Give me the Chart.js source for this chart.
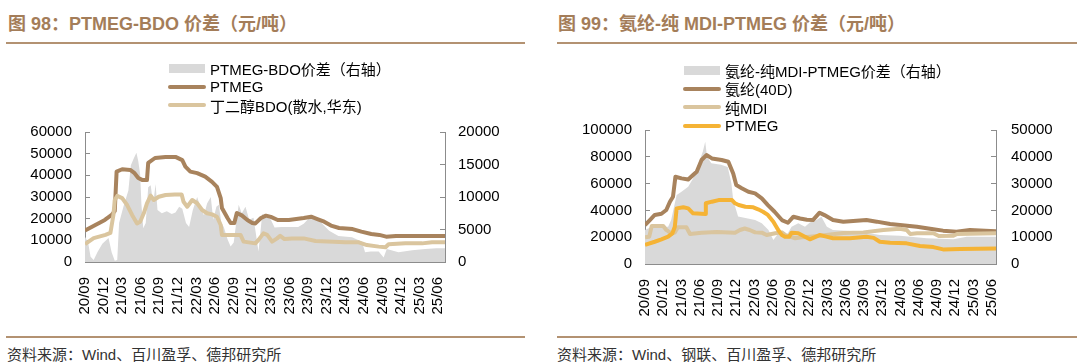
<!DOCTYPE html>
<html>
<head>
<meta charset="utf-8">
<script src="https://cdn.jsdelivr.net/npm/chart.js@4.4.0/dist/chart.umd.min.js"></script>
<style>
  body { margin:0; width:1080px; height:362px; position:relative; background:#fff; overflow:hidden;
         font-family:"Liberation Sans","Noto Sans CJK SC",sans-serif; }
  .title { position:absolute; top:14px; line-height:20px; font-size:18px; font-weight:bold; color:#a47d59; white-space:nowrap; }
  .rule { position:absolute; height:2px; background:#b39272; }
  .src { position:absolute; top:346px; line-height:18px; font-size:15px; color:#333; white-space:nowrap; }
  .box { position:absolute; top:0; width:540px; height:330px; }
  .legend { position:absolute; font-size:15px; color:#000; }
  .legend div { height:18.5px; display:flex; align-items:center; white-space:nowrap; }
  .legend .sym { display:inline-block; width:38px; margin-right:4px; }
</style>
</head>
<body>
<div class="title" style="left:8px">图 98：PTMEG-BDO 价差（元/吨）</div>
<div class="rule" style="left:6px;top:42px;width:519px"></div>
<div class="title" style="left:558px">图 99：氨纶-纯 MDI-PTMEG 价差（元/吨）</div>
<div class="rule" style="left:557px;top:42px;width:520px"></div>

<div class="box" style="left:0"><canvas id="c98" width="540" height="330"></canvas></div>
<div class="box" style="left:540px"><canvas id="c99" width="540" height="330"></canvas></div>
<div class="legend" id="lg98" style="left:168px;top:59px"></div>
<div class="legend" id="lg99" style="left:683px;top:61px"></div>

<div class="rule" style="left:6px;top:336px;width:519px"></div>
<div class="rule" style="left:557px;top:336px;width:520px"></div>
<div class="src" style="left:7px">资料来源：Wind、百川盈孚、德邦研究所</div>
<div class="src" style="left:557px">资料来源：Wind、钢联、百川盈孚、德邦研究所</div>

<script>
// x = months since 2020-09
const xTickLabels = ['20/09','20/12','21/03','21/06','21/09','21/12','22/03','22/06','22/09','22/12',
  '23/03','23/06','23/09','23/12','24/03','24/06','24/09','24/12','25/03','25/06']

// 图98
const spreadX98 = [0,0.5,0.9,1.4,2.0,2.8,3.8,4.3,4.8,5.2,5.5,6.2,7.0,7.4,7.9,8.3,8.6,8.9,9.1,9.4,9.8,10.2,10.6,11.0,11.4,11.7,12.4,13.2,14.0,14.6,15.2,15.7,16.3,16.8,17.4,18.1,18.6,19.2,19.7,20.3,20.7,21.2,21.6,22.0,22.4,23.0,23.5,24.0,24.4,24.8,25.3,25.9,26.5,27.2,28.0,28.6,29.9,30.6,31.7,34.4,35.3,36.6,37.2,38.3,39.4,40.9,43.1,44.7,45.2,46.1,47.4,48.2,48.7,50.6,52.8,54.9,56.7,58.1]
const spreadY98 = [3900,3000,800,300,1500,2800,3700,1500,200,300,6000,8500,11000,14900,16000,16800,15500,13500,9000,5200,6000,11500,11800,9000,12000,8000,7500,7800,7400,7600,8500,8200,6000,5400,8000,10000,8500,7200,9000,10000,6500,8500,8800,6000,5400,3500,2400,3000,6000,8800,7500,8500,6500,6800,1600,7400,6700,5300,5400,5400,5900,7200,6900,5900,4800,4000,3800,3100,1500,1600,1600,700,2000,1500,1800,2000,2100,2100]
const ptmegX98 = [0,1.6,3.2,4.3,4.8,5.1,6.0,7.3,8.0,8.6,9.3,10.0,10.2,11.3,13.0,14.6,15.7,16.2,17.0,18.1,19.4,20.5,21.3,21.9,22.1,23.0,23.5,24.1,24.5,25.3,26.2,27.0,27.5,28.4,29.2,30.0,31.1,32.9,35.3,36.5,37.5,38.6,39.7,41.0,43.2,44.6,46.2,47.5,48.6,50.2,58.1]
const ptmegY98 = [14500,17000,19400,21700,23500,41700,42800,42500,41000,38800,37800,37800,45700,48000,48500,48500,47000,44000,41700,41000,39400,37000,34700,29500,24900,20300,18000,18000,22600,21500,19400,18000,17800,20300,21400,20800,19400,19400,20300,20900,19800,18600,16800,15700,15200,14000,12900,12500,11700,12000,12000]
const bdoX98 = [0,1.4,3.3,4.1,4.6,4.8,5.2,6.0,6.8,7.6,8.4,8.9,9.5,10.0,10.6,11.1,11.9,13.0,14.5,15.6,15.9,16.5,17.3,18.1,18.9,19.7,20.5,21.3,21.9,22.1,23.7,25.1,25.6,27.5,28.0,28.8,29.4,30.2,31.0,31.5,32.2,33.4,35.3,37.2,42.0,44.2,45.5,47.4,48.5,49.0,51.7,54.4,56.0,58.1]
const bdoY98 = [8200,11000,12500,13400,22000,28600,30500,29500,26300,21700,17800,18600,22600,27100,30600,28600,30100,30900,31200,31200,27800,25500,28600,27100,24000,22500,22000,20900,17100,12500,12500,12500,9400,8600,10200,13200,12500,9400,10900,12100,10600,10900,10900,9700,9100,9100,7800,7100,6800,8200,8600,8600,9100,9100]

// 图99
const spreadX99 = [0,1.1,3.8,4.3,5.2,6.0,7.1,7.9,8.7,9.5,9.9,10.2,10.9,12.5,13.6,14.2,14.5,15.3,16.7,18.1,19.2,20.3,21.1,21.9,23.0,24.1,25.2,26.3,27.1,28.2,29.0,29.9,30.9,35.1,38.6,41.9,46.3,50.7,52.9,55.9,57.7]
const spreadY99 = [12700,13900,13900,16400,25700,27000,28800,31900,36900,41900,45600,40000,37600,37000,36200,30100,23900,17700,17100,16400,15200,12700,9000,11400,9600,13900,15200,13900,15500,16400,17600,13900,12700,12100,10800,10500,9600,9200,10200,10200,10200]
const spandexX99 = [0,0.8,1.6,2.7,3.5,4.1,4.6,5.0,6.0,7.1,7.9,8.5,9.3,10.1,11.0,12.6,13.7,14.5,15.0,15.9,17.0,18.1,19.2,20.2,21.3,22.5,23.5,24.4,25.5,26.6,27.6,28.7,29.5,30.9,32.6,36.4,38.1,40.3,41.9,44.7,47.4,49.0,51.2,53.4,55.9,57.7]
const spandexY99 = [29100,32800,36600,37500,40300,46500,50200,65100,63900,63000,66400,68900,77600,81300,78800,77600,76300,67600,58900,56500,53900,52700,49000,44000,39000,32800,30800,35300,34000,33000,32800,38300,36500,32800,31600,32800,31600,29800,29100,27800,25900,24900,24100,25400,24900,24500]
const mdiX99 = [0,0.7,1.1,3.0,3.5,4.3,4.9,5.4,6.8,7.4,9.3,11.8,14.8,15.6,16.4,17.2,18.1,19.2,20.0,21.4,22.5,23.1,24.7,25.8,27.1,29.8,32.6,35.9,39.2,41.9,43.0,43.6,44.7,47.4,48.3,50.7,51.3,53.4,57.7]
const mdiY99 = [19900,20400,28300,28300,25400,22900,23500,27400,27400,22400,23400,23900,23400,25400,26500,25400,23600,23400,21600,22900,23600,21600,19200,19900,20400,21600,23100,23600,25400,26300,25400,22400,22900,22900,20900,21100,22400,22600,22900]
const ptmegX99 = [0,1.6,2.7,3.8,4.5,4.9,5.2,6.3,7.1,7.9,9.9,10.0,11.0,12.1,14.3,14.8,15.4,16.5,17.8,18.6,19.4,20.2,21.1,21.9,22.5,23.0,23.7,24.1,25.2,26.3,27.1,28.7,29.8,30.9,33.7,36.4,37.6,38.6,40.3,43.0,45.2,47.4,49.0,51.8,57.7]
const ptmegY99 = [14200,16600,18400,20400,22900,27800,41500,42300,41500,37800,37300,45300,46500,47700,47700,45300,44000,42700,42300,40800,39000,36600,31600,25400,21600,20400,20400,23400,22900,20400,18400,21600,20400,19200,19200,20400,19500,16600,15800,15400,13400,12600,10900,11200,11600]

const GREY = '#d9d9d9', BROWN = '#a8835d', BEIGE = '#dac59e', YELLOW = '#f5b335'

function pts(xs, ys) { return xs.map((x, i) => ({ x: x, y: ys[i] })) }

function area(label, xs, ys) {
  return { label, data: pts(xs, ys), yAxisID: 'y1', fill: 'origin', backgroundColor: GREY,
           borderWidth: 0, borderColor: GREY, order: 10 }
}
function line(label, xs, ys, color, order) {
  return { label, data: pts(xs, ys), yAxisID: 'y', fill: false, borderColor: color,
           backgroundColor: color, borderWidth: 4, order: order }
}

const tickFont = { size: 15, family: 'Liberation Sans' }
function axisGrid() { return { drawOnChartArea: false, tickLength: -5, color: '#8c8c8c' } }
const plain = v => String(v)

function makeChart(id, datasets, o) {
  return new Chart(document.getElementById(id), {
    type: 'line',
    data: { datasets },
    options: {
      responsive: false, animation: false,
      layout: { padding: { top: o.top, left: 0, right: 0, bottom: 0 } },
      plugins: { legend: { display: false }, tooltip: { enabled: false } },
      elements: { point: { radius: 0 }, line: { tension: 0, borderJoinStyle: 'round' } },
      scales: {
        x: {
          type: 'linear', min: 0, max: o.xMax,
          afterBuildTicks: s => { s.ticks = xTickLabels.map((l, i) => ({ value: i * 3 })) },
          afterFit: s => { s.height = o.xH },
          grid: axisGrid(), border: { color: '#8c8c8c' },
          ticks: { autoSkip: false, minRotation: 90, maxRotation: 90, padding: 20, color: '#000',
                   font: tickFont, callback: v => xTickLabels[Math.round(v / 3)] }
        },
        y: {
          position: 'left', min: 0, max: o.yMax,
          afterFit: s => { s.width = o.yW },
          grid: axisGrid(), border: { color: '#8c8c8c' },
          ticks: { stepSize: o.yStep, padding: o.yPad, color: '#000', font: tickFont, callback: plain }
        },
        y1: {
          position: 'right', min: 0, max: o.y1Max,
          afterFit: s => { s.width = o.y1W },
          grid: axisGrid(), border: { color: '#8c8c8c' },
          ticks: { stepSize: o.y1Step, padding: o.y1Pad, color: '#000', font: tickFont, callback: plain }
        }
      }
    }
  })
}

function legend(id, datasets) {
  const el = document.getElementById(id)
  datasets.forEach(d => {
    const row = document.createElement('div')
    const sym = document.createElement('span')
    sym.className = 'sym'
    if (d.fill) { sym.style.height = '9px'; sym.style.background = d.backgroundColor; sym.style.width = '36px'; sym.style.margin = '0 5px 0 1px' }
    else { sym.style.height = '4px'; sym.style.background = d.borderColor; sym.style.borderRadius = '2px' }
    row.appendChild(sym)
    row.appendChild(document.createTextNode(d.label))
    el.appendChild(row)
  })
}

const ds98 = [
  area('PTMEG-BDO价差（右轴）', spreadX98, spreadY98),
  line('PTMEG', ptmegX98, ptmegY98, BROWN, 2),
  line('丁二醇BDO(散水,华东)', bdoX98, bdoY98, BEIGE, 1)
]
const ds99 = [
  area('氨纶-纯MDI-PTMEG价差（右轴）', spreadX99, spreadY99),
  line('氨纶(40D)', spandexX99, spandexY99, BROWN, 3),
  line('纯MDI', mdiX99, mdiY99, BEIGE, 2),
  line('PTMEG', ptmegX99, ptmegY99, YELLOW, 1)
]

makeChart('c98', ds98, { top: 132, xH: 68, yW: 85, y1W: 95, xMax: 58.1,
  yMax: 60000, yStep: 10000, yPad: 18, y1Max: 20000, y1Step: 5000, y1Pad: 18 })
makeChart('c99', ds99, { top: 130, xH: 66, yW: 105, y1W: 84, xMax: 57.7,
  yMax: 100000, yStep: 20000, yPad: 18, y1Max: 50000, y1Step: 10000, y1Pad: 20 })

legend('lg98', ds98)
legend('lg99', ds99)
</script>
</body>
</html>
